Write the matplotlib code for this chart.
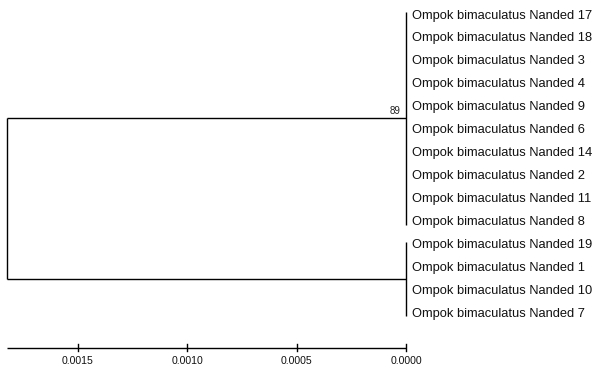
import matplotlib
matplotlib.use("Agg")
import matplotlib.pyplot as plt

# Data
clade_a = ["Ompok bimaculatus Nanded 17", "Ompok bimaculatus Nanded 18",
           "Ompok bimaculatus Nanded 3", "Ompok bimaculatus Nanded 4",
           "Ompok bimaculatus Nanded 9", "Ompok bimaculatus Nanded 6",
           "Ompok bimaculatus Nanded 14", "Ompok bimaculatus Nanded 2",
           "Ompok bimaculatus Nanded 11", "Ompok bimaculatus Nanded 8"]
clade_b = ["Ompok bimaculatus Nanded 19", "Ompok bimaculatus Nanded 1",
           "Ompok bimaculatus Nanded 10", "Ompok bimaculatus Nanded 7"]
clade_height = 0.0      # height of both clade nodes
root_height = 0.001822  # height of root
bootstrap_a = "89"
scale_ticks = [0.0015, 0.0010, 0.0005, 0.0000]

plt.rcParams['font.family'] = ['Liberation Sans', 'DejaVu Sans']

W, H = 593, 368
fig = plt.figure(figsize=(W / 100, H / 100), dpi=100)
ax = fig.add_axes([0, 0, 1, 1])
ax.axis("off")

px_per_unit = 219000.0
x0 = 406.0
ax.set_xlim(x0 / px_per_unit, (x0 - W) / px_per_unit)
# y in pixel units, top = 0
ax.set_ylim(H, 0)

y_start, y_step = 15.0, 22.95
leaves = clade_a + clade_b
ys = [y_start + i * y_step for i in range(len(leaves))]
ya = ys[:len(clade_a)]
yb = ys[len(clade_a):]
lw = 1.0
c = "black"

# clade verticals
ax.plot([clade_height, clade_height], [ya[0] - 3, ya[-1] + 3], color=c, lw=lw, solid_capstyle="butt")
ax.plot([clade_height, clade_height], [yb[0] - 3, yb[-1] + 3], color=c, lw=lw, solid_capstyle="butt")
ma = (ya[0] + ya[-1]) / 2
mb = (yb[0] + yb[-1]) / 2
# branches to root
ax.plot([clade_height, root_height], [ma, ma], color=c, lw=lw, solid_capstyle="butt")
ax.plot([clade_height, root_height], [mb, mb], color=c, lw=lw, solid_capstyle="butt")
ax.plot([root_height, root_height], [ma, mb], color=c, lw=lw, solid_capstyle="butt")

# leaf labels
off = 6 / px_per_unit
for y, name in zip(ys, leaves):
    ax.text(clade_height - off, y + 0.5, name, ha="left", va="center", fontsize=9.3, color="#111111")

# bootstrap
ax.text(clade_height + 5 / px_per_unit, ma - 4.5, bootstrap_a, ha="right", va="baseline", fontsize=7, color="#222222")

# scale axis
ys_axis = 348
ax.plot([root_height, clade_height], [ys_axis, ys_axis], color=c, lw=lw, solid_capstyle="butt")
for t in scale_ticks:
    ax.plot([t, t], [ys_axis - 4, ys_axis + 3], color=c, lw=lw)
    ax.text(t, ys_axis + 12.5, f"{t:.4f}", ha="center", va="center", fontsize=7.6, color="#111111")

fig.savefig("out.png", dpi=100)
